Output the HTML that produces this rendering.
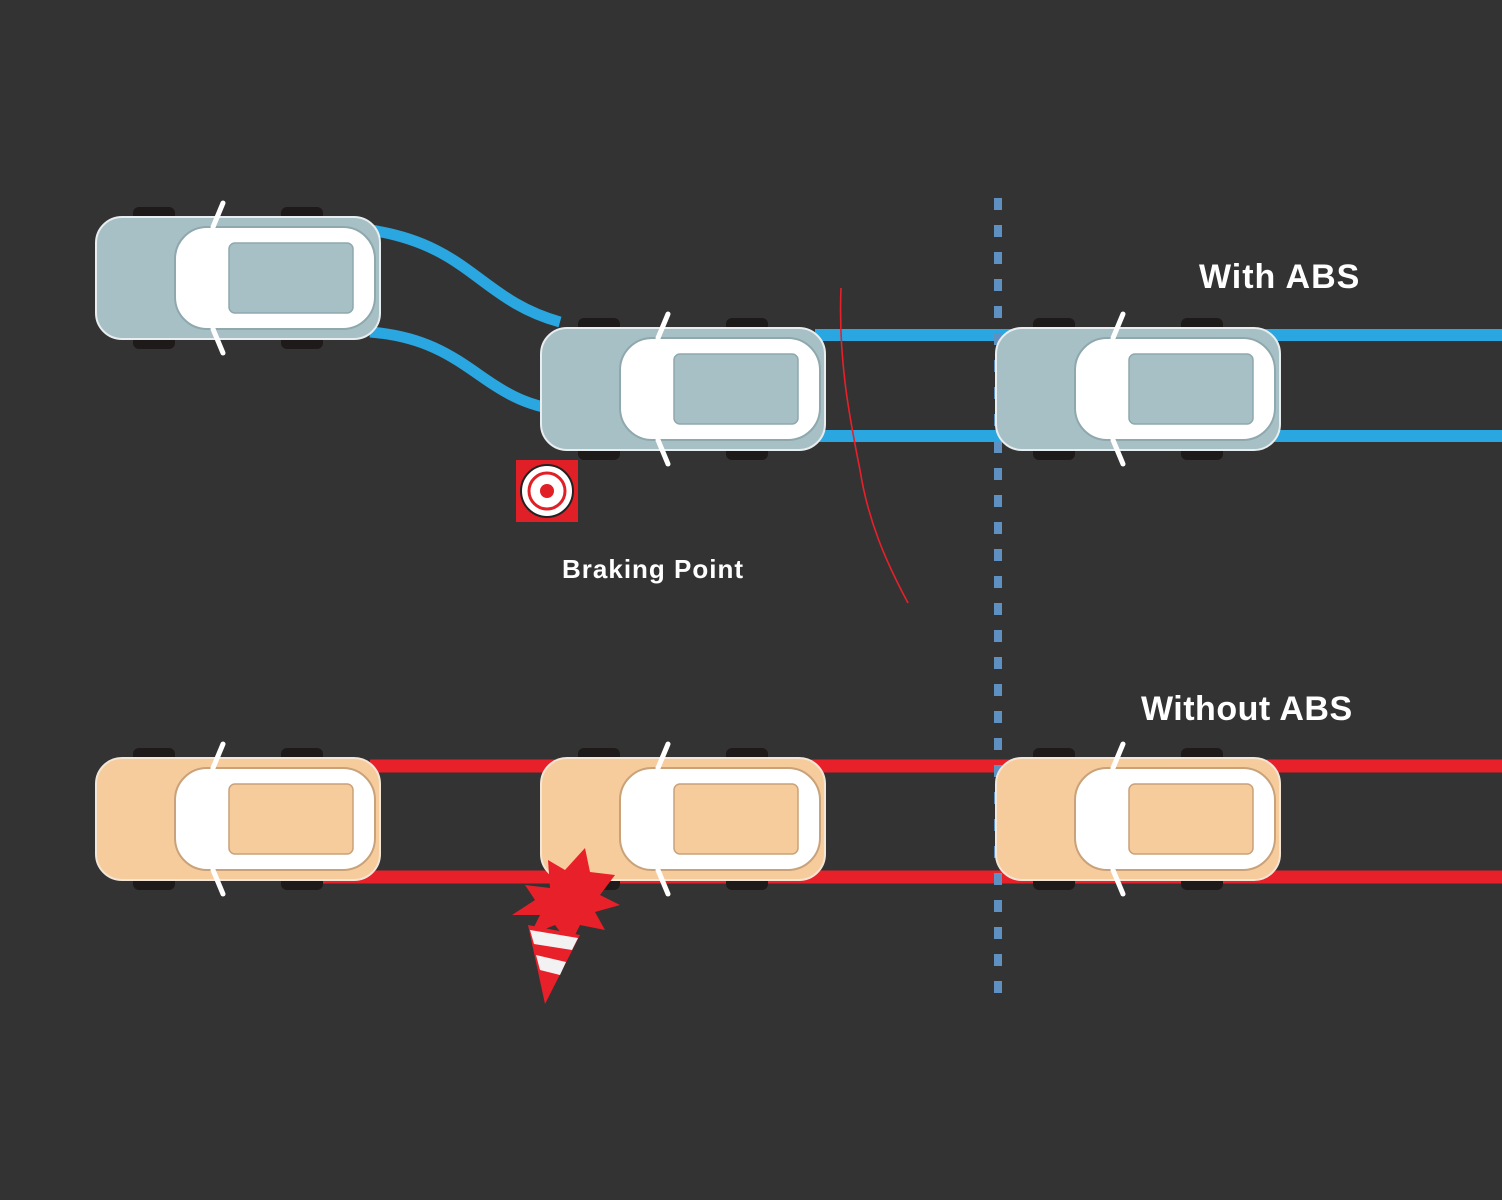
<!DOCTYPE html>
<html><head><meta charset="utf-8"><style>
html,body{margin:0;padding:0;background:#333333;}
svg{display:block}
text{font-family:"Liberation Sans",sans-serif;font-weight:bold;fill:#fff}
</style></head><body>
<svg width="1502" height="1200" viewBox="0 0 1502 1200" xmlns="http://www.w3.org/2000/svg">
<defs>
<g id="carB">
  <rect x="38" y="0" width="42" height="18" rx="6" fill="#1e1a1a"/>
  <rect x="186" y="0" width="42" height="18" rx="6" fill="#1e1a1a"/>
  <rect x="38" y="124" width="42" height="18" rx="6" fill="#1e1a1a"/>
  <rect x="186" y="124" width="42" height="18" rx="6" fill="#1e1a1a"/>
  <rect x="1" y="10" width="284" height="122" rx="26" fill="#a7c0c6" stroke="#e8eef0" stroke-width="2"/>
  <rect x="80" y="20" width="200" height="102" rx="32" fill="#fff" stroke="#8fa8ad" stroke-width="2"/>
  <rect x="134" y="36" width="124" height="70" rx="6" fill="#a7c0c6" stroke="#8fa8ad" stroke-width="1.5"/>
  <line x1="118" y1="20" x2="128" y2="-4" stroke="#fff" stroke-width="5" stroke-linecap="round"/>
  <line x1="118" y1="122" x2="128" y2="146" stroke="#fff" stroke-width="5" stroke-linecap="round"/>
</g>
<g id="carO">
  <rect x="38" y="0" width="42" height="18" rx="6" fill="#1e1a1a"/>
  <rect x="186" y="0" width="42" height="18" rx="6" fill="#1e1a1a"/>
  <rect x="38" y="124" width="42" height="18" rx="6" fill="#1e1a1a"/>
  <rect x="186" y="124" width="42" height="18" rx="6" fill="#1e1a1a"/>
  <rect x="1" y="10" width="284" height="122" rx="26" fill="#f7cc9c" stroke="#f3e6d6" stroke-width="2"/>
  <rect x="80" y="20" width="200" height="102" rx="32" fill="#fff" stroke="#c9a27a" stroke-width="2"/>
  <rect x="134" y="36" width="124" height="70" rx="6" fill="#f7cc9c" stroke="#c9a27a" stroke-width="1.5"/>
  <line x1="118" y1="20" x2="128" y2="-4" stroke="#fff" stroke-width="5" stroke-linecap="round"/>
  <line x1="118" y1="122" x2="128" y2="146" stroke="#fff" stroke-width="5" stroke-linecap="round"/>
</g>
</defs>
<rect width="1502" height="1200" fill="#333333"/>
<path d="M370 230 C 470 245, 480 300, 560 322" stroke="#2aa6e0" stroke-width="11" fill="none"/>
<path d="M370 332 C 470 340, 480 400, 560 410" stroke="#2aa6e0" stroke-width="11" fill="none"/>
<line x1="815" y1="335" x2="1502" y2="335" stroke="#2aa6e0" stroke-width="12"/>
<line x1="815" y1="436" x2="1502" y2="436" stroke="#2aa6e0" stroke-width="12"/>
<line x1="370" y1="766" x2="1502" y2="766" stroke="#e8202a" stroke-width="13"/>
<line x1="300" y1="877" x2="1502" y2="877" stroke="#e8202a" stroke-width="13"/>
<line x1="998" y1="198" x2="998" y2="1004" stroke="#5e90c2" stroke-width="8" stroke-dasharray="12 15"/>
<use href="#carB" x="95" y="207"/>
<use href="#carB" x="540" y="318"/>
<use href="#carB" x="995" y="318"/>
<use href="#carO" x="95" y="748"/>
<use href="#carO" x="540" y="748"/>
<use href="#carO" x="995" y="748"/>
<rect x="516" y="460" width="62" height="62" fill="#e01f26"/>
<circle cx="547" cy="491" r="26" fill="#fff" stroke="#222" stroke-width="2"/>
<circle cx="547" cy="491" r="18" fill="none" stroke="#e01f26" stroke-width="3"/>
<circle cx="547" cy="491" r="7" fill="#e01f26"/>
<path d="M548 860 L565 870 L585 848 L590 872 L615 875 L600 895 L620 905 L595 912 L605 930 L580 925 L570 945 L555 925 L530 935 L540 915 L512 915 L535 900 L525 885 L550 888 Z" fill="#e8202a"/>
<path d="M528 925 L580 935 L545 1004 Z" fill="#e8202a"/>
<path d="M530 930 L578 938 L572 950 L534 944 Z" fill="#f2f2f2"/>
<path d="M536 955 L566 962 L560 975 L540 970 Z" fill="#f2f2f2"/>
<path d="M841 288 C 838 360, 850 420, 860 470 C 868 520, 885 560, 908 603" stroke="#e8202a" stroke-width="1.6" fill="none"/>
<text x="1199" y="288" font-size="34" letter-spacing="1">With ABS</text>
<text x="1141" y="720" font-size="34" letter-spacing="0.5">Without ABS</text>
<text x="562" y="578" font-size="26" letter-spacing="1">Braking Point</text>
</svg>
</body></html>
